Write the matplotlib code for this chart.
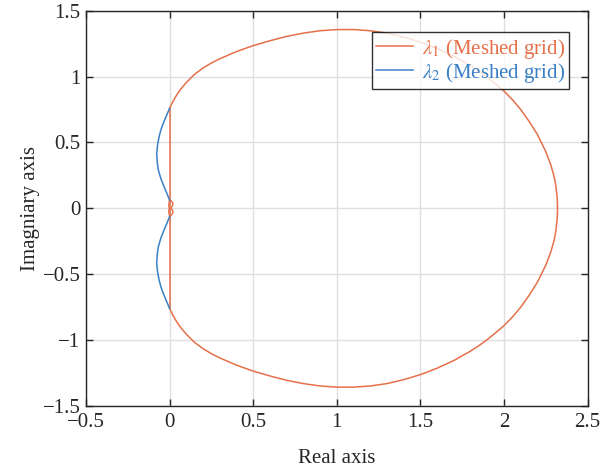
import numpy as np
import matplotlib
matplotlib.use("Agg")
import matplotlib.pyplot as plt

plt.rcParams["font.family"] = ["Liberation Serif", "DejaVu Serif"]
plt.rcParams["mathtext.fontset"] = "stix"
plt.rcParams["font.size"] = 15

RED = "#e5704a"
BLUE = "#3a80c6"

# lambda_1, big loop, upper half, from (0, 0.76) to (2.32, 0)
red_upper_x = [0.0, 0.01, 0.02, 0.035, 0.05, 0.075, 0.1, 0.15, 0.2, 0.25, 0.3, 0.4, 0.5, 0.6,
               0.7, 0.8, 0.9, 1.0, 1.1, 1.2, 1.3, 1.4, 1.5, 1.6, 1.7, 1.8, 1.85, 1.9, 1.95,
               2.0, 2.05, 2.1, 2.15, 2.2, 2.25, 2.28, 2.3, 2.31, 2.318, 2.32]
red_upper_y = [0.759, 0.786, 0.81, 0.845, 0.875, 0.918, 0.955, 1.018, 1.065, 1.103, 1.135,
               1.19, 1.235, 1.272, 1.305, 1.33, 1.348, 1.357, 1.357, 1.348, 1.33, 1.30,
               1.262, 1.213, 1.155, 1.083, 1.042, 0.996, 0.944, 0.89, 0.825, 0.75, 0.66,
               0.56, 0.43, 0.33, 0.24, 0.17, 0.08, 0.0]

# lambda_1, vertical segment on the imaginary axis
red_seg_x = [0.0, 0.0]
red_seg_y = [0.759, -0.759]

# lambda_1, small loop round the origin
red_loop_x = [0.0, 0.012, 0.02, 0.018, 0.008, 0.018, 0.02, 0.012, 0.0, -0.005, -0.003, -0.005, 0.0]
red_loop_y = [0.063, 0.055, 0.04, 0.02, 0.003, -0.015, -0.032, -0.05, -0.058, -0.03, 0.0, 0.03, 0.063]

# lambda_2, upper lobe left of the axis
blue_upper_x = [0.0, -0.02, -0.038, -0.052, -0.063, -0.072, -0.077, -0.074, -0.067, -0.052,
                -0.033, -0.015, -0.004, 0.0]
blue_upper_y = [0.759, 0.70, 0.645, 0.595, 0.543, 0.48, 0.417, 0.35, 0.29, 0.225,
                0.164, 0.11, 0.075, 0.063]

# the locus is symmetric about the real axis
red_x = np.concatenate([red_upper_x, red_upper_x[::-1]])
red_y = np.concatenate([red_upper_y, [-v for v in red_upper_y[::-1]]])
blue_lower_y = [-v for v in blue_upper_y]


def main():
    fig = plt.figure(figsize=(6.15, 4.68), dpi=100)
    ax = fig.add_axes([0.1398, 0.1325, 0.8157, 0.8446])

    ax.plot(red_x, red_y, color=RED, lw=1.1, label=r"$\lambda_1$ (Meshed grid)")
    ax.plot(red_seg_x, red_seg_y, color=RED, lw=1.1)
    ax.plot(red_loop_x, red_loop_y, color=RED, lw=1.0)
    ax.plot(blue_upper_x, blue_upper_y, color=BLUE, lw=1.1, label=r"$\lambda_2$ (Meshed grid)")
    ax.plot(blue_upper_x, blue_lower_y, color=BLUE, lw=1.1)

    ax.set_xlim(-0.5, 2.5)
    ax.set_ylim(-1.5, 1.5)
    ax.set_xticks([-0.5, 0, 0.5, 1, 1.5, 2, 2.5])
    ax.set_xticklabels(["\u22120.5", "0", "0.5", "1", "1.5", "2", "2.5"])
    ax.set_yticks([-1.5, -1, -0.5, 0, 0.5, 1, 1.5])
    ax.set_yticklabels(["\u22121.5", "\u22121", "\u22120.5", "0", "0.5", "1", "1.5"])

    ax.grid(True, color="#dfdfdf", lw=1.0)
    ax.set_axisbelow(True)
    ax.tick_params(direction="in", length=5, width=1, colors="#262626",
                   top=True, right=True, labelsize=15)
    ax.tick_params(axis="x", pad=5)
    ax.tick_params(axis="y", pad=4)
    for s in ax.spines.values():
        s.set_color("#262626")
        s.set_linewidth(1.0)

    ax.set_xlabel("Real axis", fontsize=15, color="#262626", labelpad=12)
    ax.set_ylabel("Imagniary axis", fontsize=15, color="#262626", labelpad=2)

    leg = ax.legend(loc="upper right", bbox_to_anchor=(0.963, 0.945), fontsize=15,
                    frameon=True, fancybox=False, edgecolor="black", handlelength=1.8,
                    handletextpad=0.4, borderpad=0.2, labelspacing=0.0, borderaxespad=0)
    leg.get_frame().set_linewidth(1.0)
    for txt, col in zip(leg.get_texts(), [RED, BLUE]):
        txt.set_color(col)

    fig.savefig("out.png", dpi=100)


if __name__ == "__main__":
    main()
